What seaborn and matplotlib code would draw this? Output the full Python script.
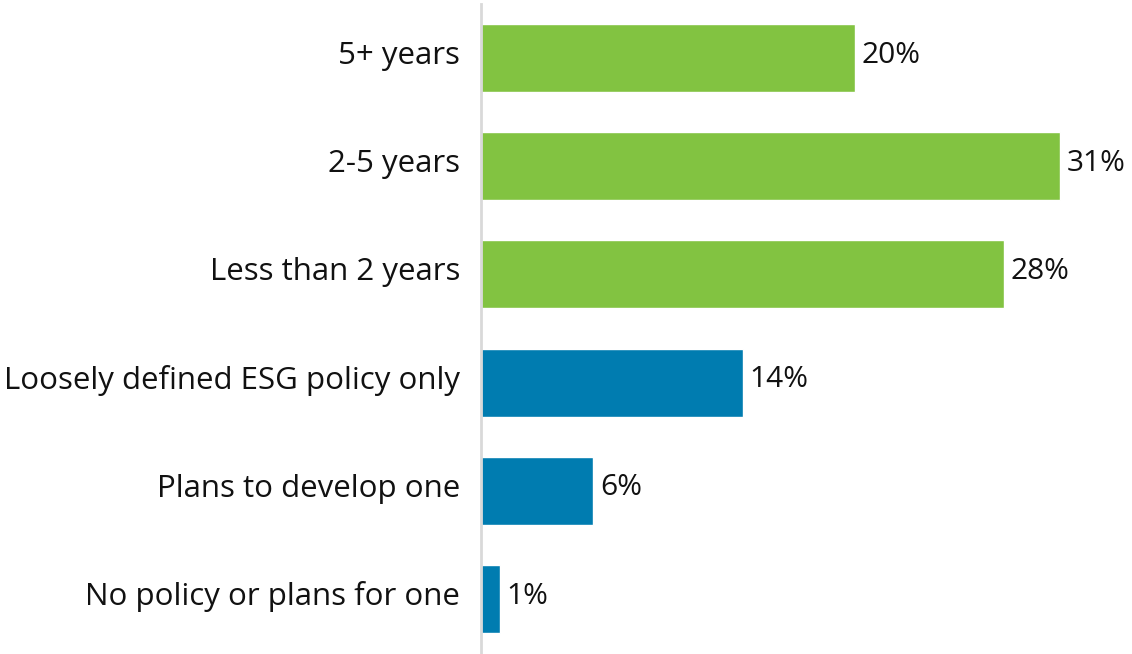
import matplotlib
matplotlib.use("Agg")
import matplotlib.pyplot as plt
import matplotlib.transforms as mtransforms
import seaborn as sns
import pandas as pd

categories = ["5+ years", "2-5 years", "Less than 2 years",
              "Loosely defined ESG policy only", "Plans to develop one",
              "No policy or plans for one"]
values = [20, 31, 28, 14, 6, 1]
groups = ["green", "green", "green", "blue", "blue", "blue"]
palette = {"green": "#82C341", "blue": "#007CB0"}

sns.set_style("white")
plt.rcParams['font.family'] = ['Open Sans', 'DejaVu Sans']

df = pd.DataFrame({"cat": categories, "val": values, "grp": groups})

fig = plt.figure(figsize=(11.32, 6.54), dpi=100)
ax = fig.add_axes([481/1132, 1/654, 1 - 481/1132, 649/654])
sns.barplot(data=df, x="val", y="cat", hue="grp", palette=palette,
            dodge=False, width=0.63, legend=False, ax=ax, saturation=1)
ax.set_xlim(0, 34.85)
ax.set_ylim(5.5, -0.5)
ax.set_xlabel("")
ax.set_ylabel("")
ax.set_xticks([])
for s in ["top", "right", "bottom"]:
    ax.spines[s].set_visible(False)
ax.spines["left"].set_color("#d9d9d9")
ax.spines["left"].set_linewidth(2)
ax.tick_params(axis="y", length=0, pad=12, labelsize=22.5, labelcolor="#111111")
shift = mtransforms.ScaledTranslation(-3/72, 4/72, fig.dpi_scale_trans)
for lab in ax.get_yticklabels():
    lab.set_transform(lab.get_transform() + shift)
for i, v in enumerate(values):
    ax.annotate(f"{v}%", (v, i), xytext=(5, 2), textcoords="offset points",
                va="center", ha="left", fontsize=21.5, color="#111111")
fig.savefig("out.png", dpi=100)
